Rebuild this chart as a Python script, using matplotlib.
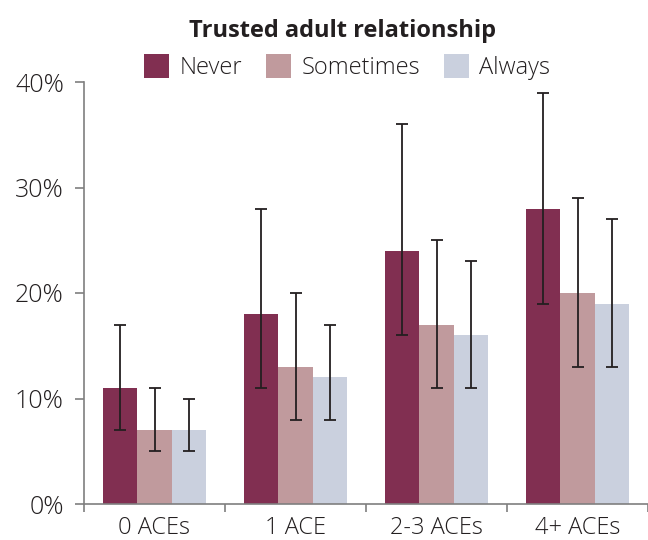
import numpy as np
import matplotlib.pyplot as plt
from matplotlib.ticker import FuncFormatter

# data
groups = ['0 ACEs', '1 ACE', '2-3 ACEs', '4+ ACEs']
series = ['Never', 'Sometimes', 'Always']
never = [11, 18, 24, 28]
sometimes = [7, 13, 17, 20]
always = [7, 12, 16, 19]
never_lo = [7, 11, 16, 19]
never_hi = [17, 28, 36, 39]
sometimes_lo = [5, 8, 11, 13]
sometimes_hi = [11, 20, 25, 29]
always_lo = [5, 8, 11, 13]
always_hi = [10, 17, 23, 27]

colors = ['#812f51', '#c09a9d', '#cad0de']

plt.rcParams['font.family'] = ['Open Sans', 'DejaVu Sans']

fig = plt.figure(figsize=(6.48, 5.4), dpi=100)
ax = fig.add_axes([84 / 648, 36 / 540, 564 / 648, 422 / 540])

x = np.arange(len(groups))
w = 0.245
vals = [never, sometimes, always]
los = [never_lo, sometimes_lo, always_lo]
his = [never_hi, sometimes_hi, always_hi]
handles = []
for k in range(3):
    v = np.array(vals[k])
    err = [v - np.array(los[k]), np.array(his[k]) - v]
    pos = x + (k - 1) * w
    b = ax.bar(pos, v, width=w, color=colors[k], label=series[k], zorder=2)
    ax.errorbar(pos, v, yerr=err, fmt='none', ecolor='#231f20', elinewidth=1.3,
                capsize=4.5, capthick=1.3, zorder=3)
    handles.append(b)

ax.set_xlim(-0.5, 3.5)
ax.set_ylim(0, 40)
ax.set_yticks([0, 10, 20, 30, 40])
ax.yaxis.set_major_formatter(FuncFormatter(lambda v, p: '%d%%' % v))
ax.set_xticks(x)
ax.set_xticklabels(groups)
ax.set_xticks([-0.5, 0.5, 1.5, 2.5, 3.5], minor=True)

for s in ['top', 'right']:
    ax.spines[s].set_visible(False)
for s in ['left', 'bottom']:
    ax.spines[s].set_color('#7f7f7f')
    ax.spines[s].set_linewidth(1.2)

ax.tick_params(axis='y', length=6.5, width=1.2, color='#7f7f7f', pad=8,
               labelsize=18, labelcolor='#231f20')
ax.tick_params(axis='x', which='major', length=0, pad=9, labelsize=17,
               labelcolor='#231f20')
ax.tick_params(axis='x', which='minor', length=6, width=1.2, color='#7f7f7f')
for t in ax.get_xticklabels() + ax.get_yticklabels():
    t.set_fontweight('light')

fig.text(0.528, 0.942, 'Trusted adult relationship', ha='center', va='center',
         fontsize=17, fontweight='bold', color='#231f20')
leg = fig.legend(handles=handles, labels=series, loc='center', ncol=3,
                 bbox_to_anchor=(0.536, 0.876), frameon=False,
                 prop={'size': 17, 'weight': 'light'},
                 handlelength=1.05, handleheight=1.15, handletextpad=0.45,
                 columnspacing=1.0, labelcolor='#231f20')

fig.savefig('out.png', dpi=100)
